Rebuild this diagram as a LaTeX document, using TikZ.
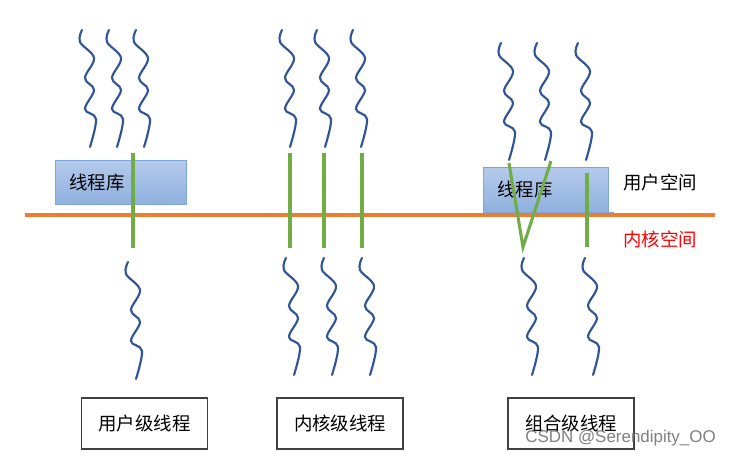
\documentclass[tikz,border=0pt]{standalone}
\usepackage{fontspec}
\setmainfont{Noto Sans CJK SC}
\newfontfamily\markfont{Liberation Sans}
\definecolor{threadblue}{HTML}{2F5597}
\definecolor{mapgreen}{HTML}{70AD47}
\definecolor{splitorange}{HTML}{ED7D31}
\definecolor{libtop}{HTML}{B4CAEA}
\definecolor{libbottom}{HTML}{8FB0DE}
\definecolor{libedge}{HTML}{7EA6DA}
\tikzset{
  thread/.pic={
    \draw[threadblue, line width=1.6pt, line cap=round]
      plot[smooth, tension=0.6] coordinates
      {(0,0) (-2,12) (12,28) (3,48) (12,60) (3,79) (14,89) (8,117)};
  },
  cjk/.style={font=\fontsize{13.8pt}{16pt}\selectfont},
  libbox/.style={cjk, draw=libedge, top color=libtop, bottom color=libbottom,
    inner xsep=10.5pt, inner ysep=0pt, align=left, anchor=north west},
  levelbox/.style={cjk, draw=black!75, line width=0.8pt,
    minimum width=94.5pt, minimum height=38.25pt},
  mapline/.style={mapgreen, line width=2.3pt},
}
\begin{document}
\begin{tikzpicture}[x=0.75pt, y=-0.75pt]
  \useasboundingbox (0,0) rectangle (732,457);
  % threads in user space
  \foreach \p in {(82,30),(109,30),(136,30),(282,30),(317,30),(353,30),
                  (501,43),(537,43),(578,43)}
    \pic at \p {thread};
  % kernel threads
  \foreach \p in {(128,262),(286,258),(324,258),(362,258),(524,258),(585,258)}
    \pic at \p {thread};
  % thread libraries
  \node[libbox, text width=77.25pt, minimum height=33pt] (lib1) at (55,160) {线程库};
  \node[libbox, text width=72.75pt, minimum height=33.75pt] (lib3) at (483,167) {线程库};
  \draw[libedge, line width=0.8pt] (lib3.south east) -- ++(5,0);
  % user / kernel split
  \coordinate (sl) at (25,215);
  \coordinate (sr) at (715,215);
  \draw[splitorange, line width=2.3pt] (sl) -- (sr);
  \node[cjk] (user) at (660,183) {用户空间};
  \node[cjk, text=red] (kernel) at (660,239) {内核空间};
  % mappings
  \draw[mapline] (133,153) -- (133,248);
  \foreach \x in {290,324,362}
    \draw[mapline] (\x,153) -- (\x,248);
  \draw[mapline] (509,163) -- (523,247) -- (551,161);
  \draw[mapline] (587,173) -- (587,247);
  % models
  \node[levelbox] (ult) at (144.5,423.5) {用户级线程};
  \node[levelbox] (klt) at (340,423.5) {内核级线程};
  \node[levelbox] (mix) at (571,423.5) {组合级线程};
  \node[anchor=east, inner sep=0pt, text=black!50,
        font=\markfont\fontsize{12.7pt}{14pt}\selectfont] (mark) at (716,438) {CSDN @Serendipity\_OO};
\end{tikzpicture}
\end{document}
